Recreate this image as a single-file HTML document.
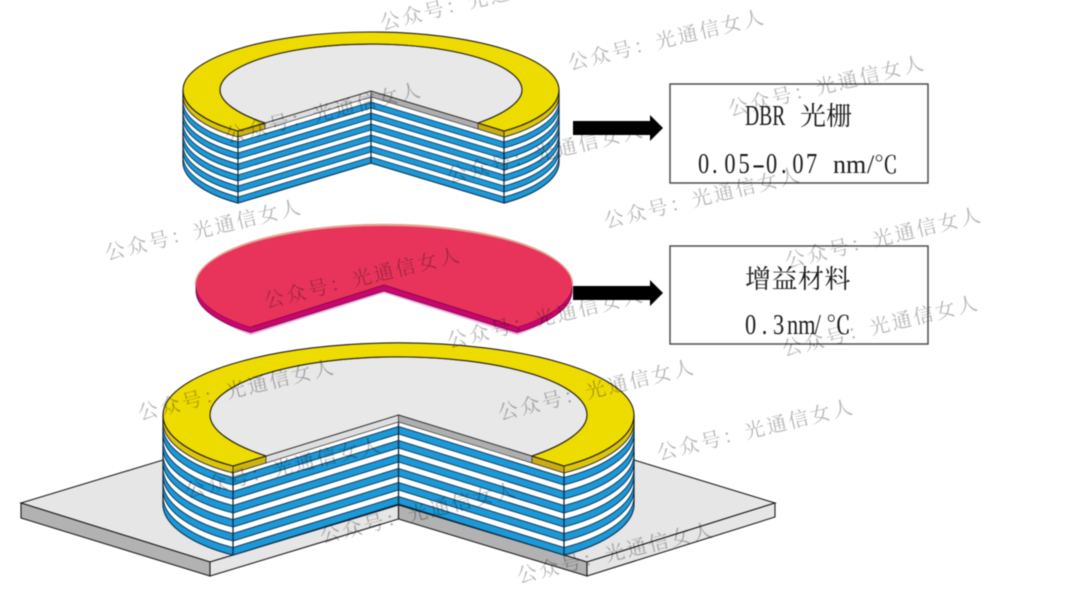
<!DOCTYPE html>
<html>
<head>
<meta charset="utf-8">
<style>
html,body{margin:0;padding:0;background:#fff;width:1080px;height:607px;overflow:hidden}
svg{display:block;filter:blur(0.45px)}
.wm{font-family:"Liberation Serif","Noto Serif CJK SC",serif;font-size:20px;letter-spacing:2.5px;fill:#b6b6b6;mix-blend-mode:multiply}
.la{font-family:"Liberation Serif",serif;font-size:28px;fill:#1a1a1a}
.cj{font-family:"Liberation Serif","Noto Serif CJK SC",serif;font-size:26px;fill:#1a1a1a}
.deg{font-family:"Noto Serif CJK SC","Noto Sans CJK SC",serif;fill:#1a1a1a}
</style>
</head>
<body>
<svg width="1080" height="607" viewBox="0 0 1080 607" xmlns="http://www.w3.org/2000/svg">
<defs>
<path id="b1" d="M183,90 C183,108 208,123 238,131 L371,91 L504,131 C534,123 559,108 559,90 V96 C559,114 534,129 504,137 L371,97 L238,137 C208,129 183,114 183,96 Z" fill="#1b98d8" stroke="#0b2f4c" stroke-width=".8"/>
<path id="b3" d="M163,415 C163,437 194,456 233,466 L398.500,415 L564,466 C603,456 634,437 634,415 V422.500 C634,444.500 603,463.500 564,473.500 L398.500,422.500 L233,473.500 C194,463.500 163,444.500 163,422.500 Z" fill="#1b98d8" stroke="#0b2f4c" stroke-width=".9"/>
</defs>

<!-- top disc -->
<path d="M183,90 C183,108 208,123 238,131 L371,91 L504,131 C534,123 559,108 559,90 V162 C559,180 534,195 504,203 L371,163 L238,203 C208,195 183,180 183,162 Z" fill="#fff" stroke="#111" stroke-width="1.200"/>
<use href="#b1" y="11"/>
<use href="#b1" y="22"/>
<use href="#b1" y="33"/>
<use href="#b1" y="44"/>
<use href="#b1" y="55"/>
<use href="#b1" y="66"/>
<path d="M238,131V203M371,91V163M504,131V203" stroke="#0d2a40" stroke-width="1.200" fill="none"/>
<path d="M183,90 C183,108 208,123 238,131 V137 C208,129 183,114 183,96 Z" fill="#dcc40a" stroke="#222" stroke-width=".9"/>
<path d="M504,131 C534,123 559,108 559,90 V96 C559,114 534,129 504,137 Z" fill="#dcc40a" stroke="#222" stroke-width=".9"/>
<path d="M238,131 L265,123 V129 L238,137 Z" fill="#cdb30f" stroke="#222" stroke-width=".8"/>
<path d="M504,131 L478,123 V129 L504,137 Z" fill="#c9ac12" stroke="#222" stroke-width=".8"/>
<path d="M265,123 L371,91 V97 L265,129 Z" fill="#dedede" stroke="#333" stroke-width=".7"/>
<path d="M371,91 L478,123 V129 L371,97 Z" fill="#aeaeae" stroke="#333" stroke-width=".7"/>
<path d="M265,123 C238,114 220,102 220,90 A151 46 0 0 1 522,90 C522,102 504,114 478,123 L371,91 Z" fill="#e8e8e8" stroke="#222" stroke-width=".9"/>
<path d="M238,131 C208,123 183,108 183,90 A188 58 0 0 1 559,90 C559,108 534,123 504,131 L478,123 C504,114 522,102 522,90 A151 46 0 0 0 220,90 C220,102 238,114 265,123 Z" fill="#eedb00" stroke="#1c1c1c" stroke-width="1.100"/>

<!-- red disc -->
<path d="M196,288 C196,306 221,325 251,335 L384,293 L517,335 C547,325 572,306 572,288 Z" fill="#f0b0dc"/>
<path d="M196,285 C196,303 221,318 251,327 L384,285 L517,327 C547,318 572,303 572,285 V291 C572,309 547,324 517,332.500 L384,291 L251,332.500 C221,324 196,309 196,291 Z" fill="#c9056f" stroke="#6d0a3e" stroke-width=".8"/>
<path d="M196,285 A188 60 0 0 1 572,285" fill="none" stroke="#e8a08c" stroke-width="2.500"/>
<path d="M196,285 C196,303 221,318 251,327 L384,285 L517,327 C547,318 572,303 572,285 A188 59 0 0 0 196,285 Z" fill="#e8345b"/>
<path d="M251,327 L384,285 L517,327" fill="none" stroke="#8a0a48" stroke-width=".9"/>

<!-- plate -->
<path d="M21,503 L163,460 H634 L775,503 L587,562 L398.500,505 L210,562 Z" fill="#e6e6e6" stroke="#1a1a1a" stroke-width="1.100"/>
<path d="M21,503 L210,562 V576 L21,518 Z" fill="#b2b2b2" stroke="#1a1a1a" stroke-width="1.100"/>
<path d="M210,562 L398.500,505 V519 L210,576 Z" fill="#e6e6e6" stroke="#1a1a1a" stroke-width="1.100"/>
<path d="M398.500,505 L587,562 V576 L398.500,519 Z" fill="#b2b2b2" stroke="#1a1a1a" stroke-width="1.100"/>
<path d="M587,562 L775,503 V517 L587,576 Z" fill="#e6e6e6" stroke="#1a1a1a" stroke-width="1.100"/>

<!-- bottom disc -->
<path d="M163,415 C163,437 194,456 233,466 L398.500,415 L564,466 C603,456 634,437 634,415 V504 C634,526 603,545 564,555 L398.500,504 L233,555 C194,545 163,526 163,504 Z" fill="#fff" stroke="#111" stroke-width="1.200"/>
<use href="#b3" y="11.500"/>
<use href="#b3" y="25.500"/>
<use href="#b3" y="39.500"/>
<use href="#b3" y="53.500"/>
<use href="#b3" y="67.500"/>
<use href="#b3" y="81.500"/>
<path d="M233,466V555M398.500,415V504M564,466V555" stroke="#0d2a40" stroke-width="1.300" fill="none"/>
<path d="M163,415 C163,437 194,456 233,466 V473 C194,463 163,444 163,422 Z" fill="#dcc40a" stroke="#222" stroke-width=".9"/>
<path d="M564,466 C603,456 634,437 634,415 V422 C634,444 603,463 564,473 Z" fill="#dcc40a" stroke="#222" stroke-width=".9"/>
<path d="M233,466 L266,456 V463 L233,473 Z" fill="#cdb30f" stroke="#222" stroke-width=".8"/>
<path d="M564,466 L532,456 V463 L564,473 Z" fill="#c9ac12" stroke="#222" stroke-width=".8"/>
<path d="M266,456 L398.500,415 V422 L266,463 Z" fill="#dedede" stroke="#333" stroke-width=".7"/>
<path d="M398.500,415 L532,456 V463 L398.500,422 Z" fill="#aeaeae" stroke="#333" stroke-width=".7"/>
<path d="M266,456 C232,445 210,430 210,415 A188 58 0 0 1 587,415 C587,430 565,445 532,456 L398.500,415 Z" fill="#e8e8e8" stroke="#222" stroke-width=".9"/>
<path d="M233,466 C194,456 163,437 163,415 A235 72 0 0 1 634,415 C634,437 603,456 564,466 L532,456 C565,445 587,430 587,415 A188 58 0 0 0 210,415 C210,430 232,445 266,456 Z" fill="#eedb00" stroke="#1c1c1c" stroke-width="1.100"/>

<!-- arrows -->
<path d="M573,121 H650 V115 L663,128 L650,141 V135 H573 Z" fill="#000"/>
<path d="M573,286 H650 V280 L663,293 L650,306 V300 H573 Z" fill="#000"/>

<!-- boxes -->
<rect x="670" y="84" width="258" height="99" fill="none" stroke="#444" stroke-width="1.400"/>
<rect x="670" y="246" width="258" height="98" fill="none" stroke="#444" stroke-width="1.400"/>

<text class="la" transform="translate(745,125) scale(.7,1)">DBR</text>
<text class="cj" x="800 826" y="125">光栅</text>

<text class="la" transform="translate(698,173) scale(.8,1)" x="0 17.500 33 50.600">0.05</text>
<text class="la" transform="translate(752,173) scale(1.400,1)">-</text>
<text class="la" transform="translate(698,173) scale(.8,1)" x="85 103.750 118 135">0.07</text>
<text class="la" style="font-size:26px" x="833 846 867" y="173">nm/</text>
<text class="deg" style="font-size:24px" x="874" y="173">℃</text>

<text class="cj" x="745 771.500 798 824.500" y="288">增益材料</text>

<text class="la" transform="translate(745,334) scale(.8,1)" x="0 21 35 52.500 66.500 87">0.3nm/</text>
<text class="deg" style="font-size:25px" x="826" y="334">℃</text>

<!-- watermarks -->
<g class="wm">
<text transform="translate(382,30) rotate(-13.500)">公众号：光通信女人</text>
<text transform="translate(570,70) rotate(-13.500)">公众号：光通信女人</text>
<text transform="translate(730,116) rotate(-13.500)">公众号：光通信女人</text>
<text transform="translate(227,143) rotate(-13.500)">公众号：光通信女人</text>
<text transform="translate(449,183) rotate(-13.500)">公众号：光通信女人</text>
<text transform="translate(606,228) rotate(-13.500)">公众号：光通信女人</text>
<text transform="translate(107,260) rotate(-13.500)">公众号：光通信女人</text>
<text transform="translate(787,268) rotate(-13.500)">公众号：光通信女人</text>
<text transform="translate(266,308) rotate(-13.500)">公众号：光通信女人</text>
<text transform="translate(449,348) rotate(-13.500)">公众号：光通信女人</text>
<text transform="translate(784,356) rotate(-13.500)">公众号：光通信女人</text>
<text transform="translate(140,420) rotate(-13.500)">公众号：光通信女人</text>
<text transform="translate(500,420) rotate(-13.500)">公众号：光通信女人</text>
<text transform="translate(659,460) rotate(-13.500)">公众号：光通信女人</text>
<text transform="translate(187,498) rotate(-13.500)">公众号：光通信女人</text>
<text transform="translate(322,543) rotate(-13.500)">公众号：光通信女人</text>
<text transform="translate(519,583) rotate(-13.500)">公众号：光通信女人</text>
</g>
</svg>
</body>
</html>
